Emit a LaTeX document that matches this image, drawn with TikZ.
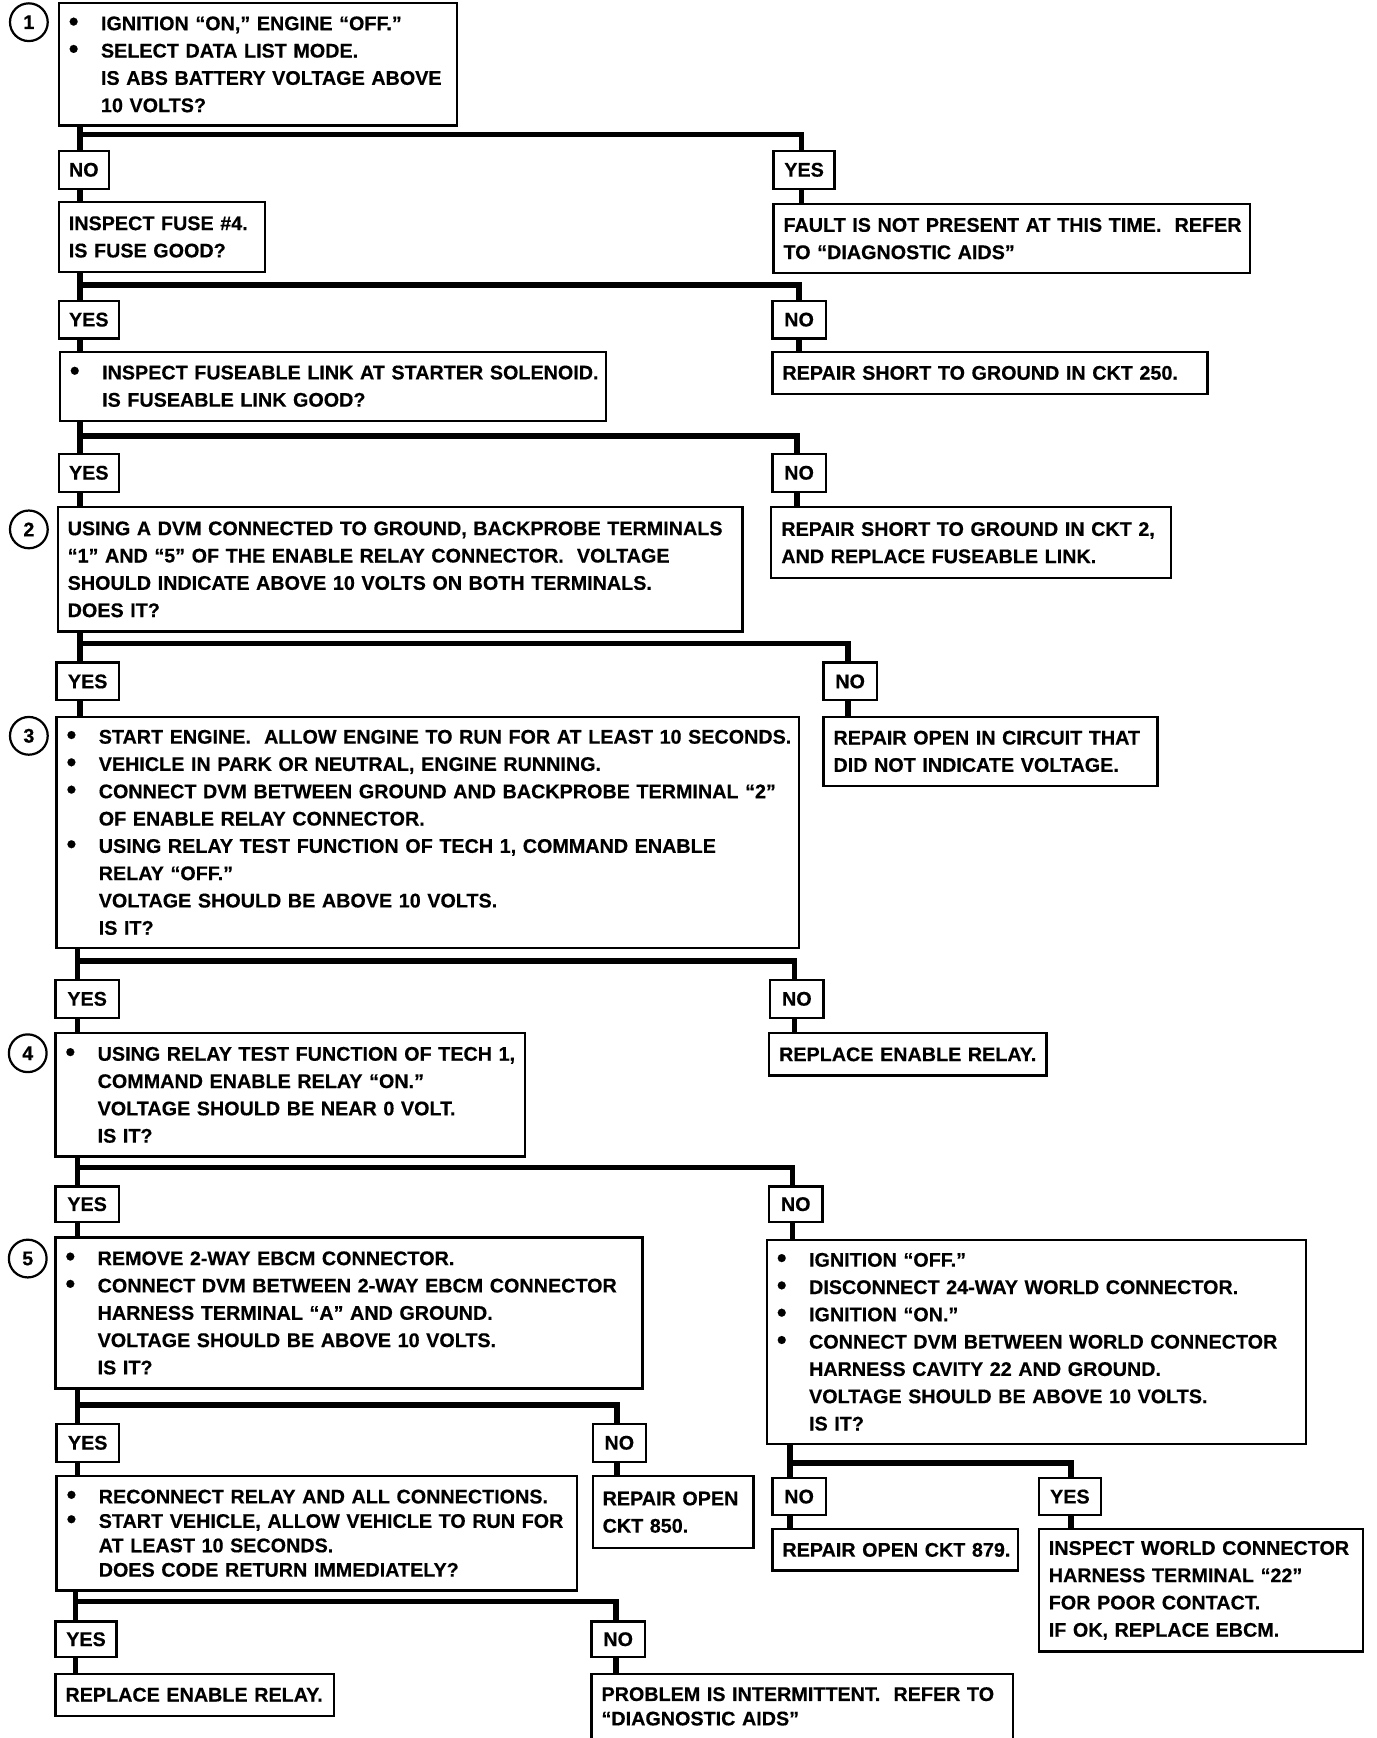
\documentclass[tikz,border=0pt]{standalone}
\usepackage{fontspec}
\setmainfont{Liberation Sans}[BoldFont={Liberation Sans Bold},BoldFeatures={FakeBold=0.4}]
\newcommand\bline[1]{\mbox{\makebox[29pt][l]{\hspace{0pt}\raisebox{-0.5pt}{\fontsize{25}{25}\selectfont •}}#1}}
\newcommand\iline[1]{\mbox{\hspace*{29pt}#1}}
\newcommand\pline[1]{\mbox{#1}}
\newcommand\fcsplit[6]{%
  \draw[conn] ([xshift=#3]#2.north west |- #1.south) -- ([xshift=#3]#2.north west);
  \draw[conn] ([xshift=#3]#2.north west |- #6) -| ([xshift=#5]#4.north west);}
\newcommand\fcstub[3]{%
  \draw[conn] ([xshift=#2]#1.south west) -- ([xshift=#2]#1.south west |- #3.north);}
\begin{document}
\begin{tikzpicture}[x=1pt,y=-1pt,
  txt/.style={font=\bfseries\fontsize{17.8}{24.6}\selectfont},
  box/.style={txt,draw,line width=2pt,anchor=north west,inner xsep=9pt,inner ysep=0pt,align=left},
  tight/.style={font=\bfseries\fontsize{17.8}{22}\selectfont},
  lab/.style={txt,draw,line width=2pt,anchor=north west,inner sep=0pt,minimum height=34pt},
  yeslab/.style={lab,minimum width=55pt},
  nolab/.style={lab,minimum width=48pt},
  num/.style={txt,circle,draw,line width=2pt,minimum size=34pt,inner sep=0pt},
  conn/.style={line width=5pt,line cap=butt,line join=miter}]
\fill[white] (0,0) rectangle (1240,1566);
\useasboundingbox (0,0) rectangle (1240,1566);

% step numbers
\node[num] (c1) at (26,20) {1};
\node[num] (c2) at (26,477) {2};
\node[num] (c3) at (26,663) {3};
\node[num] (c4) at (25,949) {4};
\node[num] (c5) at (25,1134) {5};

% boxes
\node[box,text width=341pt,minimum height=110pt] (b1) at (52,2)
  {\bline{IGNITION “ON,” ENGINE “OFF.”}\\
   \bline{SELECT DATA LIST MODE.}\\
   \iline{IS ABS BATTERY VOLTAGE ABOVE}\\
   \iline{10 VOLTS?}};
\node[nolab,minimum width=45pt] (no1) at (52,135) {NO};
\node[yeslab] (yes1) at (696,135) {YES};
\node[box,text width=168pt,minimum height=63pt] (fuse) at (52,181)
  {\pline{INSPECT FUSE \#4.}\\ \pline{IS FUSE GOOD?}};
\node[box,text width=411pt,minimum height=62pt] (fault) at (696,183)
  {\pline{FAULT IS NOT PRESENT AT THIS TIME.\ \ REFER}\\ \pline{TO “DIAGNOSTIC AIDS”}};
\node[yeslab,minimum width=54pt] (yes2) at (52,270) {YES};
\node[nolab] (no2) at (695,270) {NO};
\node[box,text width=474pt,minimum height=62pt] (link) at (53,316)
  {\bline{INSPECT FUSEABLE LINK AT STARTER SOLENOID.}\\
   \iline{IS FUSEABLE LINK GOOD?}};
\node[box,text width=374pt,minimum height=38pt] (r250) at (695,316)
  {\pline{REPAIR SHORT TO GROUND IN CKT 250.}};
\node[yeslab,minimum width=54pt] (yes3) at (52,408) {YES};
\node[nolab] (no3) at (695,408) {NO};
\node[box,text width=599pt,minimum height=112pt] (b2) at (51,456)
  {\pline{USING A DVM CONNECTED TO GROUND, BACKPROBE TERMINALS}\\
   \pline{“1” AND “5” OF THE ENABLE RELAY CONNECTOR.\ \ VOLTAGE}\\
   \pline{SHOULD INDICATE ABOVE 10 VOLTS ON BOTH TERMINALS.}\\
   \pline{DOES IT?}};
\node[box,text width=342pt,minimum height=64pt] (rckt2) at (694,456)
  {\pline{REPAIR SHORT TO GROUND IN CKT 2,}\\ \pline{AND REPLACE FUSEABLE LINK.}};
\node[yeslab,minimum width=56pt] (yes4) at (50,596) {YES};
\node[nolab] (no4) at (741,596) {NO};
\node[box,text width=651pt,minimum height=208pt] (b3) at (50,645)
  {\bline{START ENGINE.\ \ ALLOW ENGINE TO RUN FOR AT LEAST 10 SECONDS.}\\
   \bline{VEHICLE IN PARK OR NEUTRAL, ENGINE RUNNING.}\\
   \bline{CONNECT DVM BETWEEN GROUND AND BACKPROBE TERMINAL “2”}\\
   \iline{OF ENABLE RELAY CONNECTOR.}\\
   \bline{USING RELAY TEST FUNCTION OF TECH 1, COMMAND ENABLE}\\
   \iline{RELAY “OFF.”}\\
   \iline{VOLTAGE SHOULD BE ABOVE 10 VOLTS.}\\
   \iline{IS IT?}};
\node[box,text width=283pt,minimum height=62pt] (ropen) at (741,645)
  {\pline{REPAIR OPEN IN CIRCUIT THAT}\\ \pline{DID NOT INDICATE VOLTAGE.}};
\node[yeslab,minimum width=57pt] (yes5) at (49,882) {YES};
\node[nolab] (no5) at (693,882) {NO};
\node[box,text width=405pt,minimum height=111pt] (b4) at (49,930)
  {\bline{USING RELAY TEST FUNCTION OF TECH 1,}\\
   \iline{COMMAND ENABLE RELAY “ON.”}\\
   \iline{VOLTAGE SHOULD BE NEAR 0 VOLT.}\\
   \iline{IS IT?}};
\node[box,text width=232pt,minimum height=38pt] (rrelay) at (692,930)
  {\pline{REPLACE ENABLE RELAY.}};
\node[yeslab,minimum width=57pt,minimum height=32pt] (yes6) at (49,1068) {YES};
\node[nolab,minimum height=32pt] (no6) at (692,1068) {NO};
\node[box,text width=511pt,minimum height=136pt] (b5) at (49,1114)
  {\bline{REMOVE 2-WAY EBCM CONNECTOR.}\\
   \bline{CONNECT DVM BETWEEN 2-WAY EBCM CONNECTOR}\\
   \iline{HARNESS TERMINAL “A” AND GROUND.}\\
   \iline{VOLTAGE SHOULD BE ABOVE 10 VOLTS.}\\
   \iline{IS IT?}};
\node[box,text width=468pt,minimum height=184pt] (b6) at (690,1116)
  {\bline{IGNITION “OFF.”}\\
   \bline{DISCONNECT 24-WAY WORLD CONNECTOR.}\\
   \bline{IGNITION “ON.”}\\
   \bline{CONNECT DVM BETWEEN WORLD CONNECTOR}\\
   \iline{HARNESS CAVITY 22 AND GROUND.}\\
   \iline{VOLTAGE SHOULD BE ABOVE 10 VOLTS.}\\
   \iline{IS IT?}};
\node[yeslab,minimum width=56pt] (yes7) at (50,1282) {YES};
\node[nolab] (no7) at (533,1282) {NO};
\node[box,tight,text width=451pt,minimum height=103pt] (b7) at (50,1329)
  {\bline{RECONNECT RELAY AND ALL CONNECTIONS.}\\
   \bline{START VEHICLE, ALLOW VEHICLE TO RUN FOR}\\
   \iline{AT LEAST 10 SECONDS.}\\
   \iline{DOES CODE RETURN IMMEDIATELY?}};
\node[box,text width=127pt,minimum height=65pt] (r850) at (533,1329)
  {\pline{REPAIR OPEN}\\ \pline{CKT 850.}};
\node[nolab,minimum height=33pt] (no8) at (695,1331) {NO};
\node[yeslab,minimum width=56pt,minimum height=33pt] (yes8) at (935,1331) {YES};
\node[box,text width=203pt,minimum height=37pt] (r879) at (695,1377)
  {\pline{REPAIR OPEN CKT 879.}};
\node[box,text width=274pt,minimum height=110pt] (insp) at (935,1377)
  {\pline{INSPECT WORLD CONNECTOR}\\
   \pline{HARNESS TERMINAL “22”}\\
   \pline{FOR POOR CONTACT.}\\
   \pline{IF OK, REPLACE EBCM.}};
\node[yeslab,minimum height=32pt] (yes9) at (49,1460) {YES};
\node[nolab,minimum height=32pt] (no9) at (532,1460) {NO};
\node[box,text width=233pt,minimum height=38pt] (rrelay2) at (49,1507)
  {\pline{REPLACE ENABLE RELAY.}};
\node[box,tight,text width=362pt,minimum height=59pt] (prob) at (532,1507)
  {\pline{PROBLEM IS INTERMITTENT.\ \ REFER TO}\\ \pline{“DIAGNOSTIC AIDS”}};

% bar levels
\coordinate (y1) at (0,121);
\coordinate (y2) at (0,257);
\coordinate (y3) at (0,393);
\coordinate (y4) at (0,580);
\coordinate (y5) at (0,866);
\coordinate (y6) at (0,1052);
\coordinate (y7) at (0,1266);
\coordinate (y8) at (0,1318);
\coordinate (y9) at (0,1443);

% splits
\fcsplit{b1}{no1}{20pt}{yes1}{26pt}{y1}
\fcsplit{fuse}{yes2}{20pt}{no2}{25pt}{y2}
\fcsplit{link}{yes3}{20pt}{no3}{23pt}{y3}
\fcsplit{b2}{yes4}{22pt}{no4}{23pt}{y4}
\fcsplit{b3}{yes5}{21pt}{no5}{23pt}{y5}
\fcsplit{b4}{yes6}{21pt}{no6}{22pt}{y6}
\fcsplit{b5}{yes7}{20pt}{no7}{23pt}{y7}
\fcsplit{b6}{no8}{17pt}{yes8}{30pt}{y8}
\fcsplit{b7}{yes9}{19pt}{no9}{23pt}{y9}

% stubs
\fcstub{no1}{20pt}{fuse}
\fcstub{yes1}{26pt}{fault}
\fcstub{yes2}{20pt}{link}
\fcstub{no2}{25pt}{r250}
\fcstub{yes3}{20pt}{b2}
\fcstub{no3}{23pt}{rckt2}
\fcstub{yes4}{22pt}{b3}
\fcstub{no4}{23pt}{ropen}
\fcstub{yes5}{21pt}{b4}
\fcstub{no5}{23pt}{rrelay}
\fcstub{yes6}{21pt}{b5}
\fcstub{no6}{22pt}{b6}
\fcstub{yes7}{20pt}{b7}
\fcstub{no7}{23pt}{r850}
\fcstub{no8}{17pt}{r879}
\fcstub{yes8}{30pt}{insp}
\fcstub{yes9}{19pt}{rrelay2}
\fcstub{no9}{23pt}{prob}
\end{tikzpicture}
\end{document}
